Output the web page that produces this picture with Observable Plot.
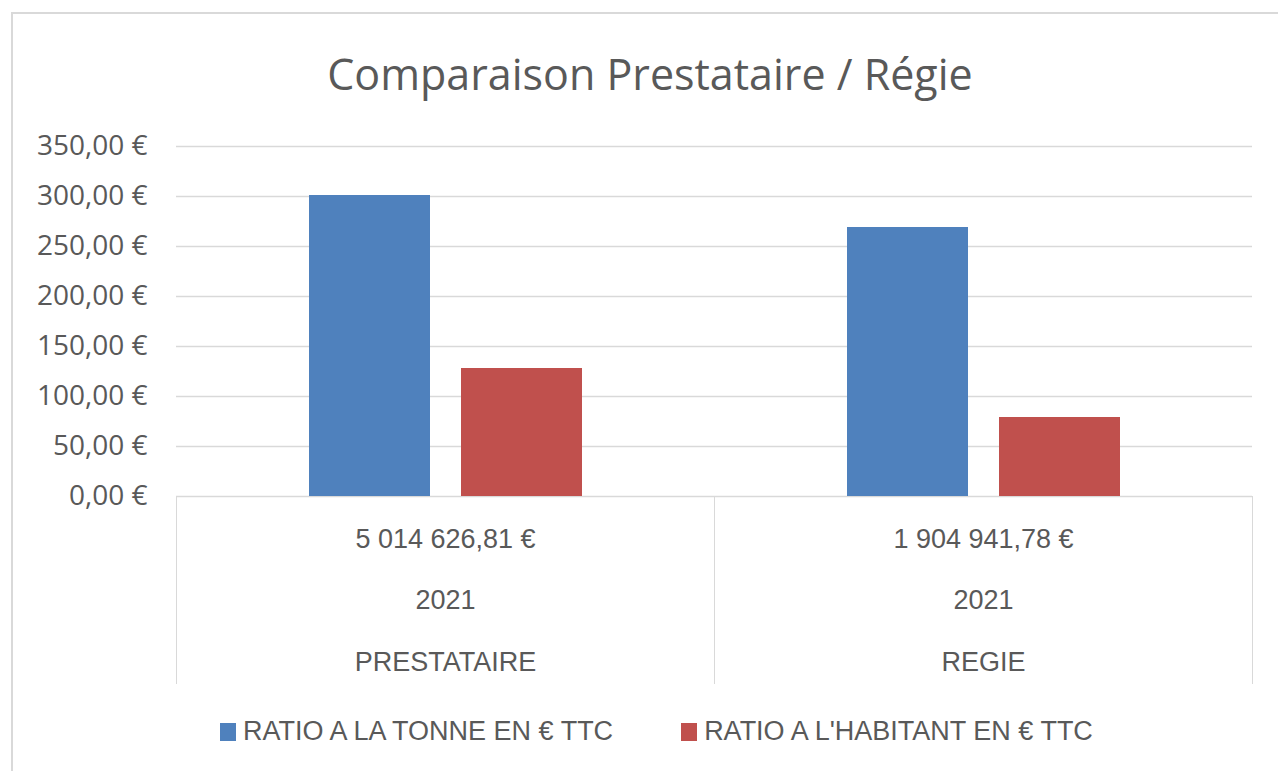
<!DOCTYPE html>
<html><head><meta charset="utf-8">
<script src="https://cdn.jsdelivr.net/npm/d3@7"></script>
<script src="https://cdn.jsdelivr.net/npm/@observablehq/plot@0.6"></script>
<style>
html,body{margin:0;padding:0;background:#fff;overflow:hidden;}
#wrap{position:relative;width:1278px;height:771px;overflow:hidden;}
#border{position:absolute;left:11px;top:12px;width:1300px;height:800px;border:2px solid #d9d9d9;box-sizing:border-box;}
#title{position:absolute;left:11px;width:1278px;top:47px;line-height:54px;text-align:center;font-family:"Open Sans",sans-serif;font-size:43px;color:#595959;}
#chart{position:absolute;left:0;top:0;}
#legend{position:absolute;top:716px;left:220px;display:flex;align-items:center;font-family:"Liberation Sans",Arial,sans-serif;font-size:27px;color:#595959;white-space:nowrap;}
#legend .sw{width:16px;height:18px;margin-right:7px;}
#legend .item{display:flex;align-items:center;margin-right:68px;}
</style></head>
<body>
<div id="wrap">
  <div id="border"></div>
  <div id="chart"></div>
  <div id="title"></div>
  <div id="legend"></div>
</div>
<script>
const titleText = "Comparaison Prestataire / Régie";
const categories = ["PRESTATAIRE", "REGIE"];
const totals = ["5 014 626,81 €", "1 904 941,78 €"];
const years = ["2021", "2021"];
const series = ["RATIO A LA TONNE EN € TTC", "RATIO A L'HABITANT EN € TTC"];
const ratioTonne = [301, 269];
const ratioHabitant = [128, 79];
const colors = ["#4f81bd", "#c0504d"];
const yTicks = [0, 50, 100, 150, 200, 250, 300, 350];

const data = categories.flatMap((c, i) => [
  {category: c, series: series[0], value: ratioTonne[i]},
  {category: c, series: series[1], value: ratioHabitant[i]}
]);
const labels = categories.map((c, i) => ({category: c, total: totals[i], year: years[i]}));
const fmt = d => d.toFixed(2).replace(".", ",") + " €";

const txt = {fx: "category", frameAnchor: "bottom", lineAnchor: "middle", fontSize: 27,
  fill: "#595959", fontFamily: "Liberation Sans, Arial, sans-serif"};

const chart = Plot.plot({
  width: 1278, height: 771,
  marginLeft: 176, marginRight: 26, marginTop: 146, marginBottom: 275,
  style: {fontFamily: "Open Sans, sans-serif", fontSize: "28px", color: "#595959", background: "transparent"},
  fx: {domain: categories, padding: 0, axis: null},
  x: {domain: series, paddingInner: 0.204, paddingOuter: 0.868, axis: null},
  y: {domain: [0, 350], ticks: yTicks, tickFormat: fmt, tickSize: 0, tickPadding: 29, label: null},
  color: {domain: series, range: colors},
  marks: [
    Plot.ruleY(yTicks, {stroke: "#d9d9d9", strokeWidth: 1.4, strokeOpacity: 1}),
    Plot.frame({anchor: "left", insetTop: 350, insetBottom: -187, stroke: "#d9d9d9", strokeOpacity: 1}),
    Plot.frame({anchor: "right", insetTop: 350, insetBottom: -187, stroke: "#d9d9d9", strokeOpacity: 1}),
    Plot.barY(data, {fx: "category", x: "series", y: "value", fill: "series"}),
    Plot.text(labels, {...txt, text: "total", dy: 43}),
    Plot.text(labels, {...txt, text: "year", dy: 104}),
    Plot.text(labels, {...txt, text: "category", dy: 166})
  ]
});
document.getElementById("chart").appendChild(chart);
document.getElementById("title").textContent = titleText;

const legend = document.getElementById("legend");
series.forEach((s, i) => {
  const item = document.createElement("div");
  item.className = "item";
  const sw = document.createElement("div");
  sw.className = "sw";
  sw.style.background = colors[i];
  const t = document.createElement("span");
  t.textContent = s;
  item.appendChild(sw); item.appendChild(t);
  legend.appendChild(item);
});
</script>
</body></html>
